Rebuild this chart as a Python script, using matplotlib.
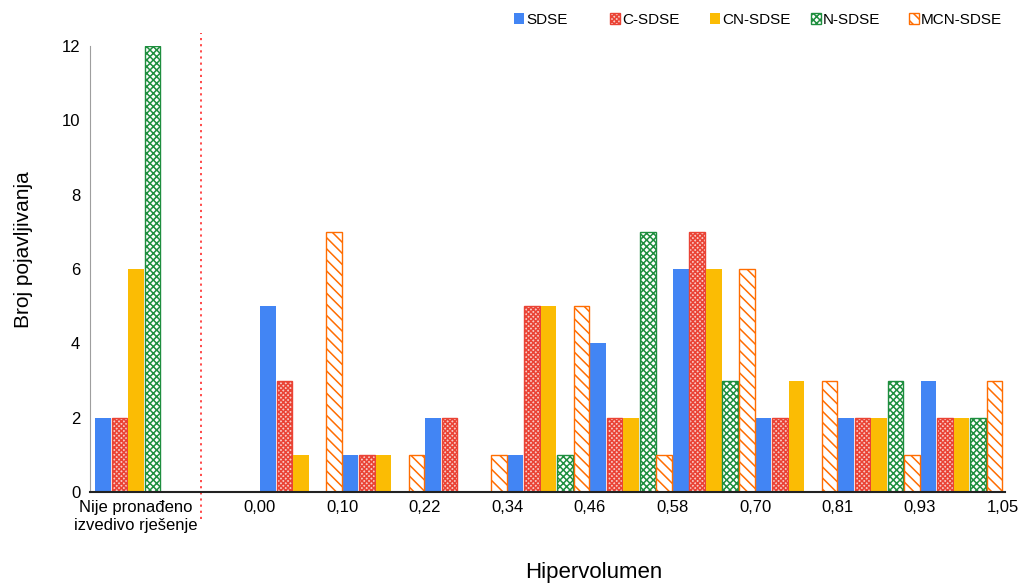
import numpy as np
import matplotlib
matplotlib.use("Agg")
import matplotlib.pyplot as plt
from matplotlib.patches import Patch
import matplotlib.transforms as mtransforms

plt.rcParams['font.family'] = ['Liberation Sans', 'DejaVu Sans']
plt.rcParams['hatch.linewidth'] = 1.1

# === Data ===
first_label = "Nije pronađeno\nizvedivo rješenje"
bin_edges = ['0,00', '0,10', '0,22', '0,34', '0,46', '0,58', '0,70', '0,81', '0,93', '1,05']

series = ['SDSE', 'C-SDSE', 'CN-SDSE', 'N-SDSE', 'MCN-SDSE']
# first value = "not found", the rest = histogram bins
sdse = [2, 5, 1, 2, 1, 4, 6, 2, 2, 3]
c_sdse = [2, 3, 1, 2, 5, 2, 7, 2, 2, 2]
cn_sdse = [6, 1, 1, 0, 5, 2, 6, 3, 2, 2]
n_sdse = [12, 0, 0, 0, 1, 7, 3, 0, 3, 2]
mcn_sdse = [0, 7, 1, 1, 5, 1, 6, 3, 1, 3]

# === Styles ===
styles = {
    'SDSE':     dict(facecolor='#4285F4', edgecolor='#4285F4', hatch=None, lw=0),
    'C-SDSE':   dict(facecolor='#F8C9C5', edgecolor='#EA4335', hatch='xxxxxxx', lw=1.0),
    'CN-SDSE':  dict(facecolor='#FBBC04', edgecolor='#FBBC04', hatch=None, lw=0),
    'N-SDSE':   dict(facecolor='white', edgecolor='#1E8E3E', hatch='xxxxx', lw=1.0),
    'MCN-SDSE': dict(facecolor='white', edgecolor='#FF6D01', hatch='\\\\\\', lw=1.0),
}
legend_x = [514, 610, 710, 811, 909]  # pixel x of each legend entry

fig = plt.figure(figsize=(10.25, 5.84), dpi=100)
ax = fig.add_axes([90 / 1025, 1 - 492 / 584, 915 / 1025, 446 / 584])

# group start slots: first group at 0, bins start at 10 (one slot = one bar)
n_groups = len(sdse)
starts = np.array([0] + [10 + 5 * k for k in range(n_groups - 1)], dtype=float)

all_vals = [sdse, c_sdse, cn_sdse, n_sdse, mcn_sdse]
for i, (name, vals) in enumerate(zip(series, all_vals)):
    st = styles[name]
    ax.bar(starts + i + 0.5, vals, width=0.94, facecolor=st['facecolor'],
           edgecolor=st['edgecolor'], hatch=st['hatch'], linewidth=st['lw'])

ax.set_xlim(-0.3, 55.15)
ax.set_ylim(0, 12)
ax.set_yticks(np.arange(0, 13, 2))
ax.tick_params(axis='y', length=0, pad=7, labelsize=12)

edge_pos = [10 + 5 * k for k in range(len(bin_edges))]
ax.set_xticks([2.5] + edge_pos)
ax.set_xticklabels([first_label] + bin_edges)
ax.tick_params(axis='x', length=0, pad=6, labelsize=12)

for s in ['top', 'right']:
    ax.spines[s].set_visible(False)
ax.spines['left'].set_color('#9E9E9E')
ax.spines['bottom'].set_color('#222222')
ax.spines['bottom'].set_linewidth(1.5)

# separator between "not found" and histogram
trans = mtransforms.blended_transform_factory(ax.transData, ax.transAxes)
ax.plot([6.4, 6.4], [-0.06, 1.03], transform=trans, clip_on=False,
        color='#FF3B3B', linestyle=(0, (1.2, 2.2)), linewidth=1.3)

ax.set_xlabel("Hipervolumen", fontsize=16)
ax.set_ylabel("Broj pojavljivanja", fontsize=15)
ax.xaxis.set_label_coords(0.551, -0.158)
ax.yaxis.set_label_coords(-0.062, 0.543)

for name, px in zip(series, legend_x):
    st = styles[name]
    h = Patch(facecolor=st['facecolor'], edgecolor=st['edgecolor'],
              hatch=st['hatch'], linewidth=st['lw'])
    leg = fig.legend([h], [name], loc='center left',
                     bbox_to_anchor=(px / 1025, 1 - 20 / 584), frameon=False,
                     fontsize=11, handlelength=0.68, handleheight=0.68,
                     handletextpad=0.1, borderpad=0, borderaxespad=0)

fig.savefig('out.png', dpi=100)
